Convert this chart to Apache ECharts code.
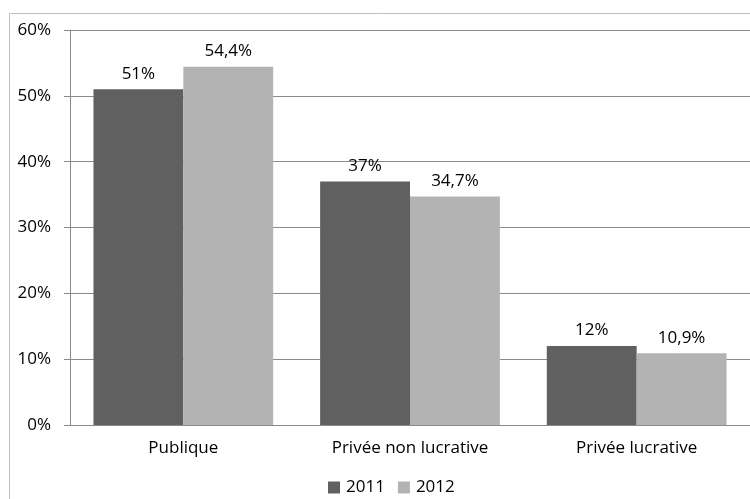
<!DOCTYPE html>
<html><head><meta charset="utf-8">
<script src="https://cdn.jsdelivr.net/npm/echarts@6/dist/echarts.min.js"></script>
<style>html,body{margin:0;padding:0;background:#fff}#c{width:750px;height:499px}</style>
</head><body><div id="c"></div>
<script>
const categories = ["Publique", "Privée non lucrative", "Privée lucrative"];
const series2011 = [51, 37, 12];
const series2012 = [54.4, 34.7, 10.9];
const seriesNames = ["2011", "2012"];
const yTicks = [0, 10, 20, 30, 40, 50, 60];

const FONT = "Open Sans";
const FS = 17;
const fmt = v => String(v).replace('.', ',') + '%';
const chart = echarts.init(document.getElementById('c'));
chart.setOption({
  animation: false,
  textStyle: {fontFamily: FONT},
  graphic: [{type: 'rect', shape: {x: 9.5, y: 13.5, width: 760, height: 500}, style: {fill: 'none', stroke: '#c0c0c0', lineWidth: 1}, silent: true}],
  grid: {left: 70, right: -1, top: 30, bottom: 74},
  legend: {left: 323, top: 474, itemWidth: 12, itemHeight: 12, itemGap: 13, icon: 'rect',
    textStyle: {fontFamily: FONT, fontSize: FS, color: '#000', padding: [0,0,0,1]}, data: seriesNames},
  xAxis: {type: 'category', data: categories,
    axisLine: {lineStyle: {color: '#8a8a8a'}}, axisTick: {length: 5, lineStyle: {color: '#8a8a8a'}},
    axisLabel: {color: '#000', fontSize: FS, margin: 15, fontFamily: FONT}},
  yAxis: {type: 'value', min: yTicks[0], max: yTicks[yTicks.length-1], interval: 10,
    axisLine: {show: true, lineStyle: {color: '#8a8a8a'}}, axisTick: {show: true, length: 6, lineStyle: {color: '#8a8a8a'}},
    splitLine: {lineStyle: {color: '#8a8a8a'}},
    axisLabel: {color: '#000', fontSize: FS, margin: 19, formatter: v => v + '%', fontFamily: FONT}},
  series: [
    {name: seriesNames[0], type: 'bar', data: series2011, barGap: '0%', barCategoryGap: '20.7%',
     itemStyle: {color: '#606060'}, label: {show: true, position: 'top', distance: 7, color: '#000', fontSize: FS, fontFamily: FONT, formatter: p => fmt(p.value)}},
    {name: seriesNames[1], type: 'bar', data: series2012, barGap: '0%', barCategoryGap: '20.7%',
     itemStyle: {color: '#b3b3b3'}, label: {show: true, position: 'top', distance: 7, color: '#000', fontSize: FS, fontFamily: FONT, formatter: p => fmt(p.value)}}
  ]
});
</script></body></html>
